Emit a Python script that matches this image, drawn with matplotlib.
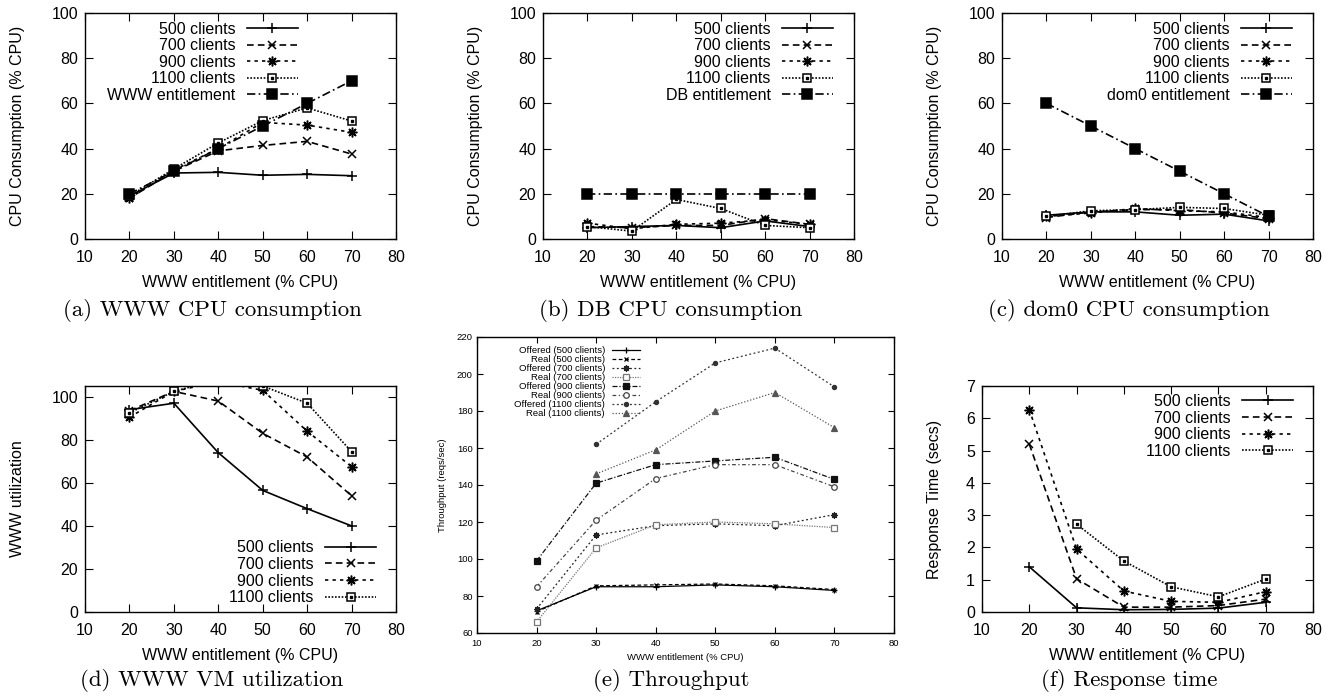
import numpy as np
import matplotlib
matplotlib.use('Agg')
import matplotlib.pyplot as plt
from matplotlib.legend_handler import HandlerTuple

plt.rcParams['font.family'] = ['Liberation Sans', 'DejaVu Sans']

W, H = 1337, 697

# x values shared by every panel
entitlement = [20, 30, 40, 50, 60, 70]
clientLabels = ['500 clients', '700 clients', '900 clients', '1100 clients']

# (a) WWW CPU consumption
wwwCpu500 = [19, 29.2, 29.5, 28.2, 28.6, 28]
wwwCpu700 = [18, 30, 39, 41.4, 43.2, 37.6]
wwwCpu900 = [18, 30.5, 40, 51.6, 50.4, 47.2]
wwwCpu1100 = [19, 31, 42.5, 52.4, 58, 52.2]
wwwEnt = [20, 30, 40, 50, 60, 70]

# (b) DB CPU consumption
dbCpu500 = [5, 5.5, 6, 5, 8, 5.5]
dbCpu700 = [5.5, 5, 6, 6, 9, 6.5]
dbCpu900 = [7, 4.5, 6.5, 7, 8.5, 6.5]
dbCpu1100 = [5.5, 3.5, 17.5, 13.5, 6, 5]
dbEnt = [20, 20, 20, 20, 20, 20]

# (c) dom0 CPU consumption
dom0Cpu500 = [10.5, 12, 12, 10.5, 11, 8]
dom0Cpu700 = [9.5, 12, 13, 13, 11.5, 9]
dom0Cpu900 = [10, 11.5, 13.5, 12.5, 12, 9.5]
dom0Cpu1100 = [10, 12.5, 13, 14, 13.5, 10.5]
dom0Ent = [60, 50, 40, 30, 20, 10]

# (d) WWW VM utilization
util500 = [94, 97, 74, 56.5, 48, 40]
util700 = [93.5, 102.5, 98, 83, 72, 54]
util900 = [90.5, 102.5, 107, 103, 84, 67.5]
util1100 = [92.5, 102.5, 108, 105, 97, 74.5]

# (e) Throughput
tputLabels = ['Offered (500 clients)', 'Real (500 clients)',
              'Offered (700 clients)', 'Real (700 clients)',
              'Offered (900 clients)', 'Real (900 clients)',
              'Offered (1100 clients)', 'Real (1100 clients)']
offered500 = [72, 85, 85, 86, 85, 83]
real500 = [71.5, 85.5, 86, 86.5, 85.5, 83.5]
offered700 = [73, 113, 118, 119, 118, 124]
real700 = [66, 106, 118.5, 120, 119, 117]
offered900 = [99, 141, 151, 153, 155, 143]
real900 = [85, 121, 143.5, 151, 151, 139]
offered1100 = [np.nan, 162, 185, 206, 214, 193]
real1100 = [np.nan, 146, 159, 180, 190, 171]

# (f) Response time
resp500 = [1.4, 0.13, 0.07, 0.08, 0.12, 0.3]
resp700 = [5.2, 1.03, 0.15, 0.15, 0.2, 0.4]
resp900 = [6.27, 1.95, 0.65, 0.33, 0.3, 0.63]
resp1100 = [np.nan, 2.72, 1.58, 0.78, 0.47, 1.02]

FS = 11.5
star = (8, 2, 0)
clientStyles = [
    dict(ls='-', marker='+', ms=7),
    dict(ls=(0, (4, 2.5)), marker='x', ms=6),
    dict(ls=(0, (2, 2.5)), marker=star, ms=7),
    dict(ls=(0, (1, 1)), marker='s', ms=6, mfc='white', opensq=True),
]
entStyle = dict(ls=(0, (5, 2, 1, 2)), marker='s', ms=6.5)


def make_ax(left, top, bottom, width):
    return fig.add_axes([left / W, 1 - bottom / H, width / W, (bottom - top) / H])


def style_ax(ax, ylim, yticks, ylabel, fs=FS, ticklen=6, ylabx=-0.193, xlaby=-0.16):
    ax.set_xlim(10, 80)
    ax.set_xticks(range(10, 81, 10))
    ax.set_ylim(*ylim)
    ax.set_yticks(yticks)
    ax.tick_params(direction='in', top=True, right=True, length=ticklen, width=0.8,
                   labelsize=fs)
    ax.tick_params(axis='x', pad=8)
    ax.tick_params(axis='y', pad=5)
    for s in ax.spines.values():
        s.set_linewidth(1.0)
    ax.set_xlabel('WWW entitlement (% CPU)', fontsize=fs)
    ax.set_ylabel(ylabel, fontsize=fs)
    ax.yaxis.set_label_coords(ylabx, 0.5)
    ax.xaxis.set_label_coords(0.5, xlaby)


def draw(ax, ys, styles, lw=1.2, color='k', mew=1.1):
    handles = []
    for y, st in zip(ys, styles):
        st = dict(st)
        opensq = st.pop('opensq', False)
        c = st.pop('color', color)
        ln, = ax.plot(entitlement, y, color=c, lw=st.pop('lw', lw), mew=mew, **st)
        if opensq:
            dot, = ax.plot(entitlement, y, ls='none', marker='s', ms=1.5, color=c)
            handles.append((ln, dot))
        else:
            handles.append(ln)
    return handles


def legend(ax, handles, labels, anchor, loc='upper right', fs=FS, hl=3.2, spacing=0.1):
    ax.legend(handles, labels, loc=loc, bbox_to_anchor=anchor, markerfirst=False,
              frameon=False, fontsize=fs, handlelength=hl, handletextpad=0.7,
              labelspacing=spacing, borderpad=0, borderaxespad=0, numpoints=1,
              handler_map={tuple: HandlerTuple(ndivide=1, pad=0)})


def caption(xc, yb, text):
    fig.text(xc / W, 1 - yb / H, text, ha='center', va='baseline', fontsize=16.5,
             family=['cmr10', 'DejaVu Serif'])


fig = plt.figure(figsize=(W / 100, H / 100), dpi=100)

# (a)
ax = make_ax(85, 13, 239, 311)
h = draw(ax, [wwwCpu500, wwwCpu700, wwwCpu900, wwwCpu1100, wwwEnt], clientStyles + [entStyle])
style_ax(ax, (0, 100), range(0, 101, 20), 'CPU Consumption (% CPU)')
legend(ax, h, clientLabels + ['WWW entitlement'], (0.685, 0.962))
caption(212, 316, '(a) WWW CPU consumption')

# (b)
ax = make_ax(543, 13, 239, 311)
h = draw(ax, [dbCpu500, dbCpu700, dbCpu900, dbCpu1100, dbEnt], clientStyles + [entStyle])
style_ax(ax, (0, 100), range(0, 101, 20), 'CPU Consumption (% CPU)')
legend(ax, h, clientLabels + ['DB entitlement'], (0.932, 0.962))
caption(671, 316, '(b) DB CPU consumption')

# (c)
ax = make_ax(1002, 13, 239, 311)
h = draw(ax, [dom0Cpu500, dom0Cpu700, dom0Cpu900, dom0Cpu1100, dom0Ent], clientStyles + [entStyle])
style_ax(ax, (0, 100), range(0, 101, 20), 'CPU Consumption (% CPU)')
legend(ax, h, clientLabels + ['dom0 entitlement'], (0.932, 0.962))
caption(1129, 316, '(c) dom0 CPU consumption')

# (d)
ax = make_ax(85, 386, 612, 311)
h = draw(ax, [util500, util700, util900, util1100], clientStyles)
style_ax(ax, (0, 105), range(0, 101, 20), 'WWW utilization')
legend(ax, h, clientLabels, (0.936, 0.03), loc='lower right')
caption(212, 686, '(d) WWW VM utilization')

# (e)
fsE = 6.8
tputStyles = [
    dict(ls='-', marker='+', ms=4.5, color='k'),
    dict(ls=(0, (3, 2)), marker='x', ms=3.5, color='k'),
    dict(ls=(0, (1.5, 2)), marker=star, ms=4.5, color='#222222'),
    dict(ls=(0, (1, 1)), marker='s', ms=4, mfc='white', color='#777777'),
    dict(ls=(0, (4, 1.5, 1, 1.5)), marker='s', ms=4.5, color='#111111'),
    dict(ls=(0, (3, 2, 1, 2)), marker='o', ms=4, mfc='white', color='#444444'),
    dict(ls=(0, (1.5, 2)), marker='o', ms=3, color='#333333'),
    dict(ls=(0, (1, 1.5)), marker='^', ms=4, color='#555555'),
]
ax = make_ax(477, 337, 633, 417)
h = draw(ax, [offered500, real500, offered700, real700, offered900, real900,
              offered1100, real1100], tputStyles, lw=0.9, mew=0.9)
style_ax(ax, (60, 220), range(60, 221, 20), 'Throughput (reqs/sec)', fs=fsE,
         ticklen=4, ylabx=-0.072, xlaby=-0.068)
ax.tick_params(axis='x', pad=4)
ax.tick_params(axis='y', pad=3)
legend(ax, h, tputLabels, (0.391, 0.968), fs=fsE, hl=3.0, spacing=0.0)
caption(671, 686, '(e) Throughput')

# (f)
ax = make_ax(982, 386, 612, 331)
h = draw(ax, [resp500, resp700, resp900, resp1100], clientStyles)
style_ax(ax, (0, 7), range(0, 8), 'Response Time (secs)', ylabx=-0.121)
legend(ax, h, clientLabels, (0.94, 0.965))
caption(1129, 686, '(f) Response time')

fig.savefig('out.png', dpi=100)
